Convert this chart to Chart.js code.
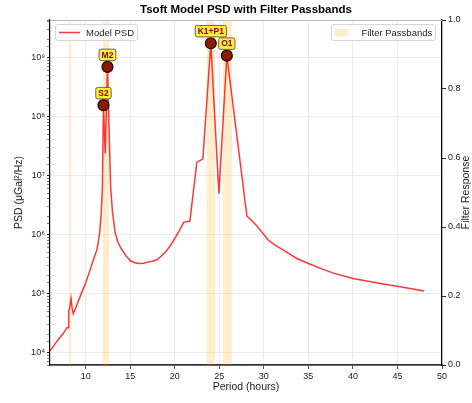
<!DOCTYPE html>
<html>
<head>
<meta charset="utf-8">
<script src="https://cdn.jsdelivr.net/npm/chart.js@4.4.0/dist/chart.umd.min.js"></script>
<style>
  body { margin: 0; background: #fff; }
  #wrap { width: 472px; height: 403px; }
</style>
</head>
<body>
<div id="wrap"><canvas id="psdChart" width="472" height="403"></canvas></div>
<script>
// --- DATA ---
const periods = [6.0, 6.5, 7.0, 7.5, 7.9, 8.05, 8.1, 8.2, 8.36, 8.5, 8.62, 9.0, 9.5, 10.0, 10.5, 11.0, 11.25, 11.4, 11.6, 11.75, 11.88, 12.0,
  12.2, 12.45, 12.8, 13.0, 13.3, 13.6, 14.0, 14.5, 15.0, 15.5, 16.0, 16.5, 17.0, 17.5, 18.0, 18.5, 19.0, 19.5, 20.0, 20.5, 21.0, 21.7,
  22.48, 23.16, 24.05, 24.96, 25.85, 28.1, 28.5, 29.2, 30.5, 31.3, 32.2, 33.7, 35.0, 36.5, 37.8, 40.0, 41.7, 43.4, 45.3, 48.0];
const psdValues = [1.05e4, 1.35e4, 1.7e4, 2.1e4, 2.6e4, 2.6e4, 5.0e4, 5.6e4, 8.2e4, 5.3e4, 4.5e4, 6.3e4, 9.8e4, 1.5e5, 2.5e5, 4.2e5, 5.4e5, 7.0e5, 1.15e6, 2.3e6, 6.0e6, 1.55e8,
  2.35e7, 6.9e8, 6.5e6, 2.5e6, 1.1e6, 7.5e5, 5.7e5, 4.4e5, 3.6e5, 3.3e5, 3.2e5, 3.25e5, 3.4e5, 3.5e5, 3.7e5, 4.3e5, 5.1e5, 6.4e5, 8.5e5, 1.15e6, 1.6e6, 1.68e6,
  1.66e7, 1.9e7, 1.74e9, 4.9e6, 1.07e9, 2.04e6, 1.8e6, 1.4e6, 8.0e5, 6.5e5, 5.4e5, 3.9e5, 3.2e5, 2.6e5, 2.2e5, 1.78e5, 1.6e5, 1.44e5, 1.29e5, 1.1e5];

const tideNames = ['S2', 'M2', 'K1+P1', 'O1'];
const tidePeriods = [12.0, 12.45, 24.05, 25.85];
const tidePsd = [1.55e8, 6.9e8, 1.74e9, 1.07e9];

const bandStarts = [8.12, 11.9, 23.57, 25.36];
const bandEnds = [8.35, 12.63, 24.54, 26.42];

const xTicks = [10, 15, 20, 25, 30, 35, 40, 45, 50];
const rightTicks = [0, 0.2, 0.4, 0.6, 0.8, 1.0];

// --- HELPERS ---
const FONT = "'Liberation Sans', Arial, Helvetica, sans-serif";
const SUP_DIGITS = { '0': '⁰', '1': '¹', '2': '²', '3': '³', '4': '⁴', '5': '⁵', '6': '⁶', '7': '⁷', '8': '⁸', '9': '⁹', '-': '⁻' };
const BAND_COLOR = 'rgba(255,165,0,0.2)';
const LINE_COLOR = 'rgba(255,20,20,0.85)';

function isPow10(v) {
    const l = Math.log10(v);
    return Math.abs(l - Math.round(l)) < 1e-9;
}

function powLabel(v) {
    const e = String(Math.round(Math.log10(v)));
    return '10' + e.split('').map(c => SUP_DIGITS[c]).join('');
}

function roundRect(ctx, x, y, w, h, r) {
    ctx.beginPath();
    ctx.moveTo(x + r, y);
    ctx.lineTo(x + w - r, y);
    ctx.quadraticCurveTo(x + w, y, x + w, y + r);
    ctx.lineTo(x + w, y + h - r);
    ctx.quadraticCurveTo(x + w, y + h, x + w - r, y + h);
    ctx.lineTo(x + r, y + h);
    ctx.quadraticCurveTo(x, y + h, x, y + h - r);
    ctx.lineTo(x, y + r);
    ctx.quadraticCurveTo(x, y, x + r, y);
    ctx.closePath();
}

// --- DECORATIONS (title, axis titles, legends, tide labels) ---
const decorPlugin = {
    id: 'decor',
    beforeDraw(chart) {
        const ctx = chart.ctx;
        ctx.save();
        ctx.fillStyle = '#fff';
        ctx.fillRect(0, 0, chart.width, chart.height);
        ctx.restore();
    },
    afterDraw(chart) {
        const ctx = chart.ctx;
        const ca = chart.chartArea;
        const midX = (ca.left + ca.right) / 2;
        const midY = (ca.top + ca.bottom) / 2;
        ctx.save();

        // top spine
        ctx.strokeStyle = '#bbb';
        ctx.lineWidth = 1;
        ctx.beginPath();
        ctx.moveTo(ca.left, ca.top + 0.5);
        ctx.lineTo(ca.right, ca.top + 0.5);
        ctx.stroke();

        // title
        ctx.fillStyle = '#000';
        ctx.textAlign = 'center';
        ctx.textBaseline = 'middle';
        ctx.font = 'bold 11.5px ' + FONT;
        ctx.fillText('Tsoft Model PSD with Filter Passbands', midX, 10);

        // axis titles
        ctx.fillStyle = '#222';
        ctx.font = '10.5px ' + FONT;
        ctx.fillText('Period (hours)', midX, 387.5);

        ctx.save();
        ctx.translate(19, midY);
        ctx.rotate(-Math.PI / 2);
        ctx.fillText('PSD (μGal²/Hz)', 0, 0);
        ctx.restore();

        ctx.save();
        ctx.translate(466, midY);
        ctx.rotate(-Math.PI / 2);
        ctx.fillText('Filter Response', 0, 0);
        ctx.restore();

        // left legend
        ctx.lineWidth = 0.8;
        ctx.strokeStyle = '#ccc';
        ctx.fillStyle = 'rgba(255,255,255,0.85)';
        roundRect(ctx, ca.left + 5.5, ca.top + 4.5, 82, 16, 2.5);
        ctx.fill();
        ctx.stroke();
        ctx.strokeStyle = LINE_COLOR;
        ctx.lineWidth = 1.5;
        ctx.beginPath();
        ctx.moveTo(ca.left + 9, ca.top + 12.5);
        ctx.lineTo(ca.left + 30, ca.top + 12.5);
        ctx.stroke();
        ctx.fillStyle = '#222';
        ctx.textAlign = 'left';
        ctx.font = '9.5px ' + FONT;
        ctx.fillText('Model PSD', ca.left + 36, ca.top + 13);

        // right legend
        const rx = ca.right - 110.5;
        ctx.lineWidth = 0.8;
        ctx.strokeStyle = '#ccc';
        ctx.fillStyle = 'rgba(255,255,255,0.85)';
        roundRect(ctx, rx, ca.top + 4.5, 104, 16, 2.5);
        ctx.fill();
        ctx.stroke();
        ctx.fillStyle = BAND_COLOR;
        ctx.fillRect(rx + 3, ca.top + 8.5, 14, 8);
        ctx.fillStyle = '#222';
        ctx.fillText('Filter Passbands', rx + 30, ca.top + 13);

        // tide labels
        const meta = chart.getDatasetMeta(chart.data.datasets.length - 1);
        ctx.font = 'bold 8.5px ' + FONT;
        ctx.textAlign = 'center';
        meta.data.forEach((pt, i) => {
            const txt = tideNames[i];
            const w = ctx.measureText(txt).width + 5;
            const h = 11.5;
            const cy = pt.y - 12;
            ctx.fillStyle = '#ffef3a';
            ctx.strokeStyle = '#555';
            ctx.lineWidth = 0.9;
            roundRect(ctx, pt.x - w / 2, cy - h / 2, w, h, 2);
            ctx.fill();
            ctx.stroke();
            ctx.fillStyle = '#8b0000';
            ctx.fillText(txt, pt.x, cy + 0.5);
        });

        ctx.restore();
    }
};

// --- CHART ---
Chart.defaults.font.family = FONT;

const bandSets = bandStarts.map((s, i) => ({
    label: 'Filter Passbands',
    data: [{ x: s, y: 1 }, { x: bandEnds[i], y: 1 }],
    yAxisID: 'y2',
    showLine: true,
    fill: 'start',
    backgroundColor: BAND_COLOR,
    borderColor: 'rgba(0,0,0,0)',
    borderWidth: 0,
    pointRadius: 0,
    order: 3
}));

const psdSet = {
    label: 'Model PSD',
    data: periods.map((p, i) => ({ x: p, y: psdValues[i] })),
    yAxisID: 'y',
    showLine: true,
    borderColor: LINE_COLOR,
    borderWidth: 1.5,
    pointRadius: 0,
    tension: 0,
    order: 2
};

const tideSet = {
    label: 'Tides',
    data: tidePeriods.map((p, i) => ({ x: p, y: tidePsd[i] })),
    yAxisID: 'y',
    showLine: false,
    pointRadius: 5.5,
    pointBackgroundColor: '#8b1a00',
    pointBorderColor: '#1a0000',
    pointBorderWidth: 1.1,
    order: 1
};

new Chart(document.getElementById('psdChart'), {
    type: 'scatter',
    data: { datasets: [...bandSets, psdSet, tideSet] },
    options: {
        responsive: false,
        animation: false,
        layout: { padding: { top: 20, left: 0, right: 0, bottom: 0 } },
        plugins: {
            legend: { display: false },
            tooltip: { enabled: false },
            title: { display: false }
        },
        scales: {
            x: {
                type: 'linear',
                min: 6,
                max: 50,
                afterBuildTicks: s => { s.ticks = xTicks.map(v => ({ value: v })); },
                afterFit: s => { s.height = 38; },
                ticks: { font: { size: 9 }, color: '#222', padding: 2, maxRotation: 0, autoSkip: false },
                grid: { color: '#e6e6e6', lineWidth: 0.8, tickColor: '#222', tickLength: 4 },
                border: { color: '#333', width: 1.8 }
            },
            y: {
                type: 'logarithmic',
                position: 'left',
                min: 6100,
                max: 4.3e9,
                afterFit: s => { s.width = 50; },
                ticks: {
                    autoSkip: false,
                    font: { size: 9 },
                    color: '#222',
                    padding: 2,
                    callback: v => isPow10(v) ? powLabel(v) : ''
                },
                grid: {
                    color: c => (c.tick && isPow10(c.tick.value)) ? '#e6e6e6' : 'rgba(0,0,0,0)',
                    lineWidth: 0.8,
                    tickColor: '#222',
                    tickLength: 3,
                    tickWidth: c => (c.tick && isPow10(c.tick.value)) ? 1 : 0.6
                },
                border: { color: '#000', width: 1.2 }
            },
            y2: {
                type: 'linear',
                position: 'right',
                min: 0,
                max: 1,
                afterBuildTicks: s => { s.ticks = rightTicks.map(v => ({ value: v })); },
                afterFit: s => { s.width = 30; },
                ticks: { font: { size: 9 }, color: '#222', padding: 2, callback: v => v.toFixed(1) },
                grid: { drawOnChartArea: false, tickColor: '#222', tickLength: 4 },
                border: { color: '#000', width: 1.2 }
            }
        }
    },
    plugins: [decorPlugin]
});
</script>
</body>
</html>
